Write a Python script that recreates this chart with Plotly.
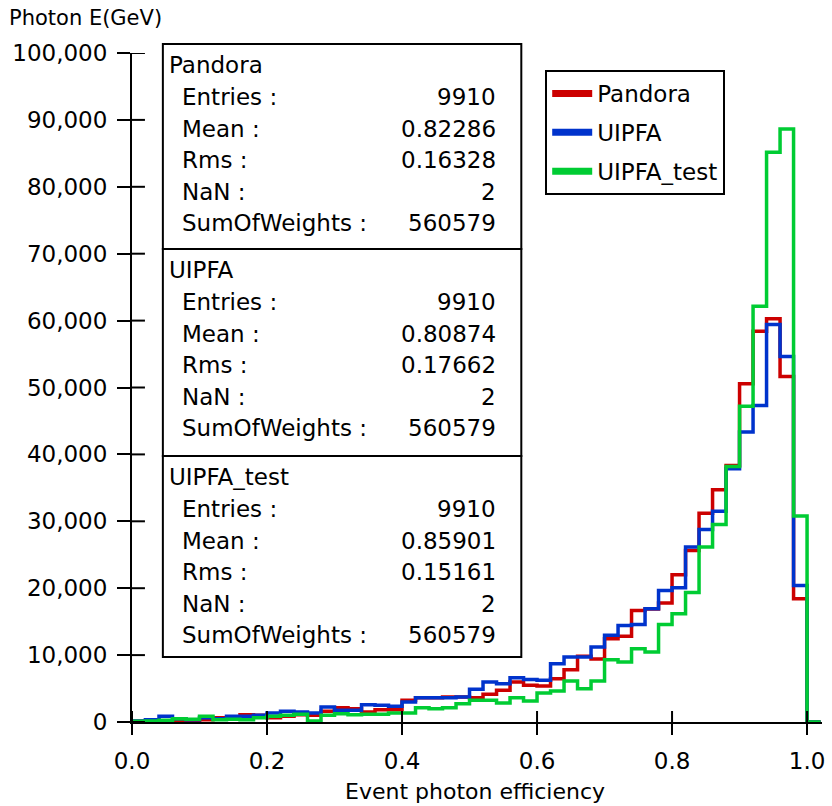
import plotly.graph_objects as go

# ---------------- data ----------------
bin_edges = [round(i * 0.02, 2) for i in range(52)]  # 0.00 ... 1.02

pandora = [100, 250, 100, 100, 250, 350, 650, 650, 1100, 1000,
           650, 850, 1100, 1000, 1590, 2140, 1990, 1490, 1840, 1840,
           3240, 3640, 3640, 3740, 3740, 3640, 4130, 4730, 5980, 5480,
           5380, 6470, 7820, 9810, 9400, 12450, 12800, 16680, 16900, 17780,
           22010, 25650, 31220, 34710, 38350, 50550, 58400, 60260, 51640, 18430, 0]
uipfa = [150, 350, 850, 500, 350, 650, 500, 850, 850, 1000,
         1340, 1590, 1490, 1340, 2240, 1740, 1740, 2590, 2490, 2340,
         2990, 3640, 3640, 3640, 3740, 4880, 5980, 5730, 6620, 6370,
         6230, 8720, 9710, 9710, 11200, 12950, 14440, 14590, 16930, 19670,
         20070, 26150, 28780, 31520, 37850, 43330, 47300, 59400, 54630, 20400, 0]
uipfa_test = [100, 150, 250, 500, 400, 850, 350, 400, 350, 650,
              850, 1000, 1150, 150, 1000, 1250, 1100, 1150, 1150, 1350,
              1350, 2140, 1990, 2140, 2740, 3240, 3240, 2840, 3640, 3140,
              4330, 4630, 6130, 4980, 6130, 9310, 8960, 10960, 10460, 14590,
              16190, 19370, 26150, 29530, 38200, 47210, 62150, 85160, 88640, 30780, 0]

series_names = ["Pandora", "UIPFA", "UIPFA_test"]
series_values = [pandora, uipfa, uipfa_test]
series_colors = ["#cc0000", "#0033cc", "#00cc33"]

x_ticks = [0.0, 0.2, 0.4, 0.6, 0.8, 1.0]
y_ticks = [0, 10000, 20000, 30000, 40000, 50000, 60000, 70000, 80000, 90000, 100000]

stat_entries = [9910, 9910, 9910]
stat_mean = ["0.82286", "0.80874", "0.85901"]
stat_rms = ["0.16328", "0.17662", "0.15161"]
stat_nan = [2, 2, 2]
stat_sumw = [560579, 560579, 560579]

# ---------------- layout helpers ----------------
W, H = 832, 806
L, R, T, B = 132, 825, 53, 722
FONT = "DejaVu Sans"
FS = 23


def px(x):
    return (x - L) / (R - L)


def py(y):
    return (B - y) / (B - T)


fig = go.Figure()

for name, vals, col in zip(series_names, series_values, series_colors):
    fig.add_trace(go.Scatter(
        x=bin_edges, y=vals + [0], mode="lines", line=dict(color=col, width=3.5, shape="hv"),
        showlegend=False, hoverinfo="skip"))

for name, col in zip(series_names, series_colors):
    fig.add_trace(go.Scatter(x=[None], y=[None], mode="lines", name=name, legendgroup=name,
                             line=dict(color=col, width=7)))

xr = [0, (R - L) / 678.0]
axis_font = dict(family=FONT, size=FS, color="black")
fig.update_layout(
    width=W, height=H,
    margin=dict(l=L, r=W - R, t=T, b=H - B, pad=0),
    paper_bgcolor="white", plot_bgcolor="white",
    font=dict(family=FONT, size=FS, color="black"),
    xaxis=dict(range=xr, showline=True, linecolor="black", linewidth=2,
               ticks="outside", ticklen=11, tickwidth=2, tickcolor="black",
               tickvals=x_ticks, tickformat=".1f", tickfont=axis_font,
               showgrid=False, zeroline=False, ticklabelstandoff=6),
    yaxis=dict(range=[0, 100000], showline=True, linecolor="black", linewidth=2,
               ticks="outside", ticklen=13, tickwidth=2, tickcolor="black",
               tickvals=y_ticks, tickformat=",d", tickfont=axis_font,
               showgrid=False, zeroline=False, ticklabelstandoff=5),
    legend=dict(x=px(547), y=py(70), xanchor="left", yanchor="top",
                bgcolor="white", bordercolor="black", borderwidth=2,
                font=dict(family=FONT, size=FS, color="black"),
                itemwidth=40, tracegroupgap=6, entrywidth=172),
    showlegend=True,
)

ann = []
ann.append(dict(text="Photon E(GeV)", x=px(6), y=py(18), xref="paper", yref="paper",
                xanchor="left", yanchor="middle", showarrow=False,
                font=dict(family=FONT, size=21)))
ann.append(dict(text="Event photon efficiency", x=px(476), y=py(791), xref="paper", yref="paper",
                xanchor="center", yanchor="middle", showarrow=False,
                font=dict(family=FONT, size=22)))

shapes = []
# inner halves of the crossing tick marks
for tv in x_ticks:
    shapes.append(dict(type="line", xref="x", yref="paper", x0=tv, x1=tv, y0=0, y1=py(711),
                       line=dict(color="black", width=2)))
for tv in y_ticks:
    shapes.append(dict(type="line", xref="paper", yref="y", x0=0, x1=px(145), y0=tv, y1=tv,
                       line=dict(color="black", width=2)))

tops = [44, 249, 456]
bottoms = [249, 456, 657]
box_l, box_r = 163, 523
for i, nm in enumerate(series_names):
    t, b = tops[i], bottoms[i]
    shapes.append(dict(type="rect", xref="paper", yref="paper",
                       x0=px(box_l), x1=px(box_r), y0=py(b), y1=py(t),
                       line=dict(color="black", width=2), fillcolor="white", layer="above"))
    ann.append(dict(text=nm, x=px(167), y=py(t + 21), xref="paper", yref="paper",
                    xanchor="left", yanchor="middle", showarrow=False,
                    font=dict(family=FONT, size=FS)))
    labels = ["Entries :", "Mean :", "Rms :", "NaN :", "SumOfWeights :"]
    values = [str(stat_entries[i]), stat_mean[i], stat_rms[i], str(stat_nan[i]), str(stat_sumw[i])]
    for k, (lab, val) in enumerate(zip(labels, values)):
        yy = t + 53 + 31.6 * k
        ann.append(dict(text=lab, x=px(180), y=py(yy), xref="paper", yref="paper",
                        xanchor="left", yanchor="middle", showarrow=False,
                        font=dict(family=FONT, size=FS)))
        ann.append(dict(text=val, x=px(500), y=py(yy), xref="paper", yref="paper",
                        xanchor="right", yanchor="middle", showarrow=False,
                        font=dict(family=FONT, size=FS)))

fig.update_layout(annotations=ann, shapes=shapes)
fig.write_html("out.html")
